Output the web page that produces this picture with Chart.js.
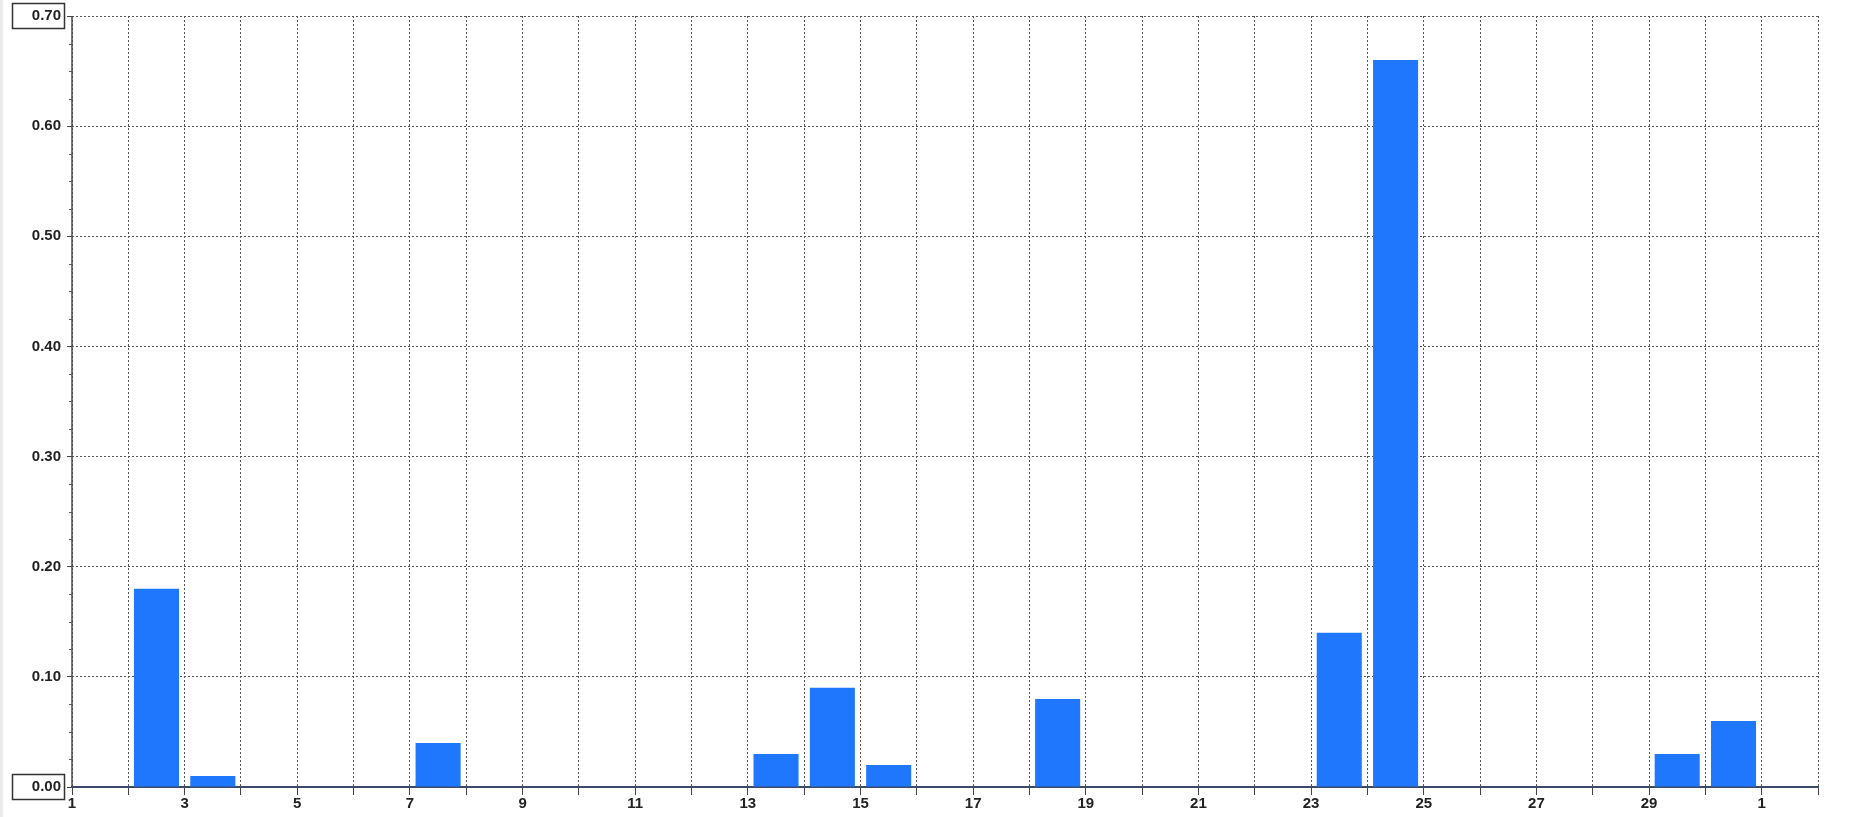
<!DOCTYPE html>
<html>
<head>
<meta charset="utf-8">
<script src="https://cdn.jsdelivr.net/npm/chart.js@4.4.1/dist/chart.umd.min.js"></script>
<style>
  html, body { margin: 0; padding: 0; background: #fff; }
  #wrap { width: 1860px; height: 817px; position: relative; border-left: 3px solid #ececec; box-sizing: border-box; }
</style>
</head>
<body>
<div id="wrap"><canvas id="chart"></canvas></div>
<script>
// interval start day -> value (the bar sits between this gridline and the next)
const days = [1, 2, 3, 4, 5, 6, 7, 8, 9, 10, 11, 12, 13, 14, 15, 16, 17, 18, 19, 20,
  21, 22, 23, 24, 25, 26, 27, 28, 29, 30, 31];
const values = [0, 0.18, 0.01, 0, 0, 0, 0.04, 0, 0, 0, 0, 0, 0.03, 0.09, 0.02, 0, 0, 0.08, 0, 0,
  0, 0, 0.14, 0.66, 0, 0, 0, 0, 0.03, 0.06, 0];
// labels for the gridlines 1..32 (30 days then next month)
const xTickLabels = ['1', '', '3', '', '5', '', '7', '', '9', '', '11', '', '13', '', '15', '',
  '17', '', '19', '', '21', '', '23', '', '25', '', '27', '', '29', '', '1', ''];

const labelFont = { family: 'Liberation Sans, Arial, sans-serif', size: 15, weight: 'bold' };

// solid y axis line, boxes round the first and last y labels, minor y ticks
const axisExtras = {
  id: 'axisExtras',
  afterDraw(chart) {
    const ctx = chart.ctx;
    const y = chart.scales.y;
    ctx.save();
    ctx.strokeStyle = '#4a4a4a';
    ctx.lineWidth = 1.5;
    ctx.beginPath();
    ctx.moveTo(y.right, y.top);
    ctx.lineTo(y.right, y.bottom);
    ctx.stroke();

    ctx.strokeStyle = '#333';
    [y.min, y.max].forEach(v => {
      const py = y.getPixelForValue(v);
      ctx.strokeRect(9.5, Math.round(py) - 12.5, 52, 25);
    });
    ctx.strokeStyle = '#555';
    ctx.lineWidth = 1;
    for (let v = 0.025; v < y.max; v += 0.025) {
      if (Math.abs(v * 10 - Math.round(v * 10)) < 0.01) continue;
      const py = Math.round(y.getPixelForValue(v)) + 0.5;
      ctx.beginPath();
      ctx.moveTo(y.right - 3, py);
      ctx.lineTo(y.right + 1, py);
      ctx.stroke();
    }
    ctx.restore();
  }
};

new Chart(document.getElementById('chart'), {
  type: 'bar',
  data: {
    datasets: [{
      data: days.map((d, i) => ({ x: d + 0.5, y: values[i] })),
      backgroundColor: '#1f77fd',
      borderWidth: 0,
      barPercentage: 0.8,
      categoryPercentage: 1
    }]
  },
  options: {
    responsive: true,
    maintainAspectRatio: false,
    animation: false,
    layout: { padding: { top: 16, right: 42, left: 0, bottom: 0 } },
    plugins: { legend: { display: false }, tooltip: { enabled: false } },
    scales: {
      x: {
        type: 'linear',
        min: 1,
        max: 32,
        offset: false,
        afterFit: s => { s.height = 30; },
        afterBuildTicks: s => {
          s.ticks = xTickLabels.map((_, i) => ({ value: i + 1 }));
        },
        ticks: {
          autoSkip: false,
          maxRotation: 0,
          padding: 0,
          color: '#222',
          font: labelFont,
          callback: (v, i) => xTickLabels[i]
        },
        grid: {
          offset: false,
          color: '#555',
          lineWidth: 1,
          tickLength: 8,
          tickColor: '#444',
          tickBorderDash: []
        },
        border: { display: true, color: '#3b4a68', width: 2, dash: [2, 2] }
      },
      y: {
        min: 0,
        max: 0.7,
        afterFit: s => { s.width = 69; },
        ticks: {
          stepSize: 0.1,
          padding: 6,
          color: '#222',
          font: labelFont,
          callback: v => v.toFixed(2)
        },
        grid: {
          color: '#555',
          lineWidth: 1,
          tickLength: 5,
          tickColor: '#444',
          tickBorderDash: []
        },
        border: { display: false, dash: [2, 2] }
      }
    }
  },
  plugins: [axisExtras]
});
</script>
</body>
</html>
